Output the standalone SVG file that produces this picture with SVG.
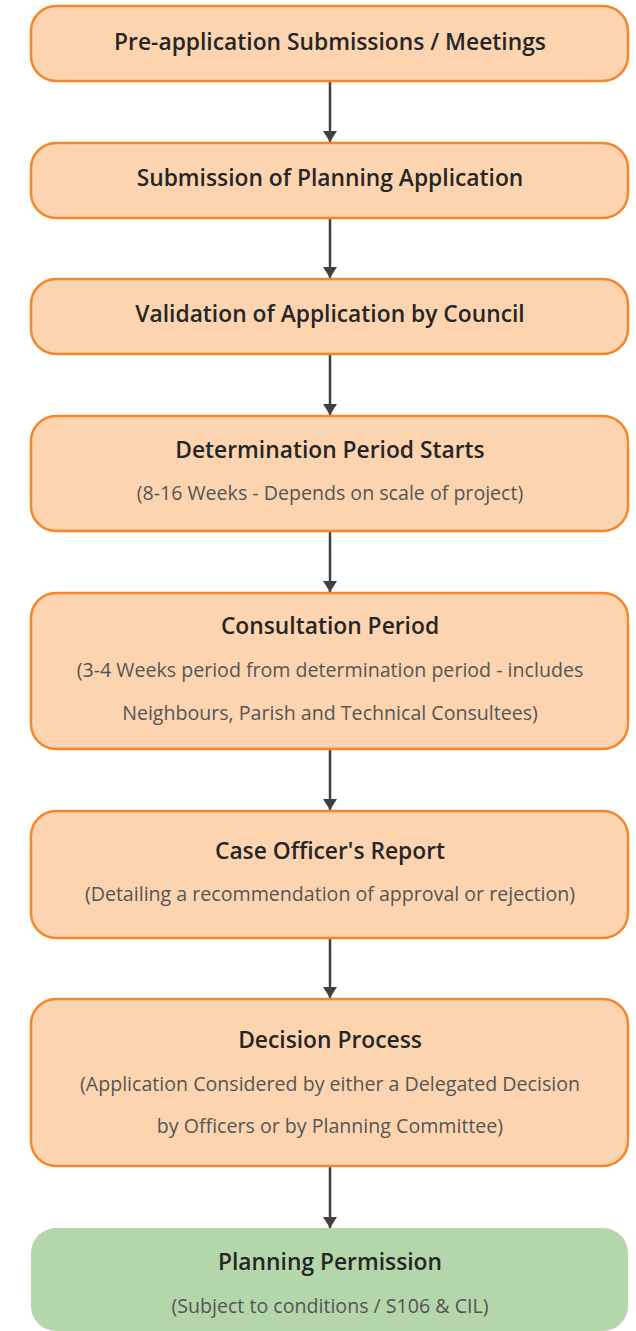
<svg xmlns="http://www.w3.org/2000/svg" width="636" height="1331" viewBox="0 0 636 1331">
<style>
.box{fill:#fcd5b0;stroke:#f5862a;stroke-width:2.5}
.ok{fill:#b4d6ab;stroke:none}
.t{font-family:"Open Sans","Noto Sans",sans-serif;font-weight:600;font-size:22.8px;fill:#262626;text-anchor:middle}
.s{font-family:"Open Sans","Noto Sans",sans-serif;font-size:19.6px;fill:#555;text-anchor:middle}
.c{stroke:#404040;stroke-width:2.5;fill:none;marker-end:url(#ah)}
</style>
<defs>
<marker id="ah" viewBox="0 0 11 14" refX="11" refY="7" markerWidth="11" markerHeight="14" markerUnits="userSpaceOnUse" orient="auto">
<path d="M0,0 L11,7 L0,14 Z" fill="#404040"/>
</marker>
</defs>
<g id="connectors">
<line class="c" x1="330" y1="82" x2="330" y2="142"/>
<line class="c" x1="330" y1="219" x2="330" y2="278"/>
<line class="c" x1="330" y1="355" x2="330" y2="415"/>
<line class="c" x1="330" y1="532" x2="330" y2="592"/>
<line class="c" x1="330" y1="750" x2="330" y2="810"/>
<line class="c" x1="330" y1="939" x2="330" y2="998"/>
<line class="c" x1="330" y1="1167" x2="330" y2="1228"/>
</g>
<g id="n1"><rect class="box" x="31" y="6" width="597" height="75" rx="25"/><text class="t" x="330" y="50">Pre-application Submissions / Meetings</text></g>
<g id="n2"><rect class="box" x="31" y="143" width="597" height="75" rx="25"/><text class="t" x="330" y="186">Submission of Planning Application</text></g>
<g id="n3"><rect class="box" x="31" y="279" width="597" height="75" rx="25"/><text class="t" x="330" y="322">Validation of Application by Council</text></g>
<g id="n4"><rect class="box" x="31" y="416" width="597" height="115" rx="25"/><text class="t" x="330" y="458">Determination Period Starts</text><text class="s" x="330" y="500">(8-16 Weeks - Depends on scale of project)</text></g>
<g id="n5"><rect class="box" x="31" y="593" width="597" height="156" rx="25"/><text class="t" x="330" y="634">Consultation Period</text><text class="s" x="330" y="677">(3-4 Weeks period from determination period - includes</text><text class="s" x="330" y="720">Neighbours, Parish and Technical Consultees)</text></g>
<g id="n6"><rect class="box" x="31" y="811" width="597" height="127" rx="25"/><text class="t" x="330" y="859">Case Officer's Report</text><text class="s" x="330" y="901">(Detailing a recommendation of approval or rejection)</text></g>
<g id="n7"><rect class="box" x="31" y="999" width="597" height="167" rx="25"/><text class="t" x="330" y="1048">Decision Process</text><text class="s" x="330" y="1091">(Application Considered by either a Delegated Decision</text><text class="s" x="330" y="1133">by Officers or by Planning Committee)</text></g>
<g id="n8"><rect class="ok" x="31" y="1228" width="597" height="103" rx="25"/><text class="t" x="330" y="1270">Planning Permission</text><text class="s" x="330" y="1313">(Subject to conditions / S106 &amp; CIL)</text></g>
</svg>
